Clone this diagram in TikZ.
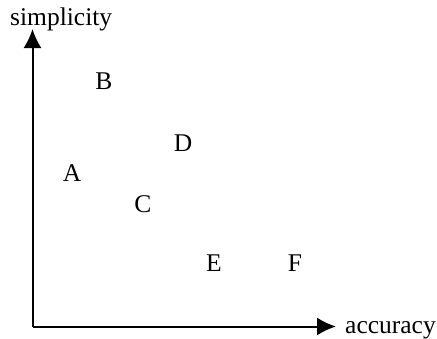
\documentclass[tikz,border=0pt]{standalone}
\usepackage{fontspec}
\setmainfont{Liberation Serif}
\usetikzlibrary{arrows.meta}
\tikzset{
    axis/.style={line width=2pt,-{Latex[length=19pt,width=18pt]}},
    point/.style={inner sep=0pt,anchor=base,font=\fontsize{25.5}{30}\selectfont},
    axislabel/.style={inner sep=0pt,anchor=base west,font=\fontsize{25.5}{30}\selectfont}
}
\begin{document}
\begin{tikzpicture}[x=1pt,y=-1pt]
            \useasboundingbox (0,0) rectangle (437,338);
            % axes
            \coordinate (o) at (32.5,326.5);
            \coordinate (ytip) at (32.5,29);
            \coordinate (xtip) at (336,326.5);
            \draw[axis] (o) -- (ytip);
            \draw[axis] (o) -- (xtip);
            \node[axislabel] (simplicity) at (10,25) {simplicity};
            \node[axislabel] (accuracy) at (345,333) {accuracy};
            % models
            \node[point] (B) at (104,89) {B};
            \node[point] (D) at (183,151) {D};
            \node[point] (A) at (72,181) {A};
            \node[point] (C) at (143,212.5) {C};
            \node[point] (E) at (214,271.5) {E};
            \node[point] (F) at (295,271.5) {F};
        \end{tikzpicture}
\end{document}
